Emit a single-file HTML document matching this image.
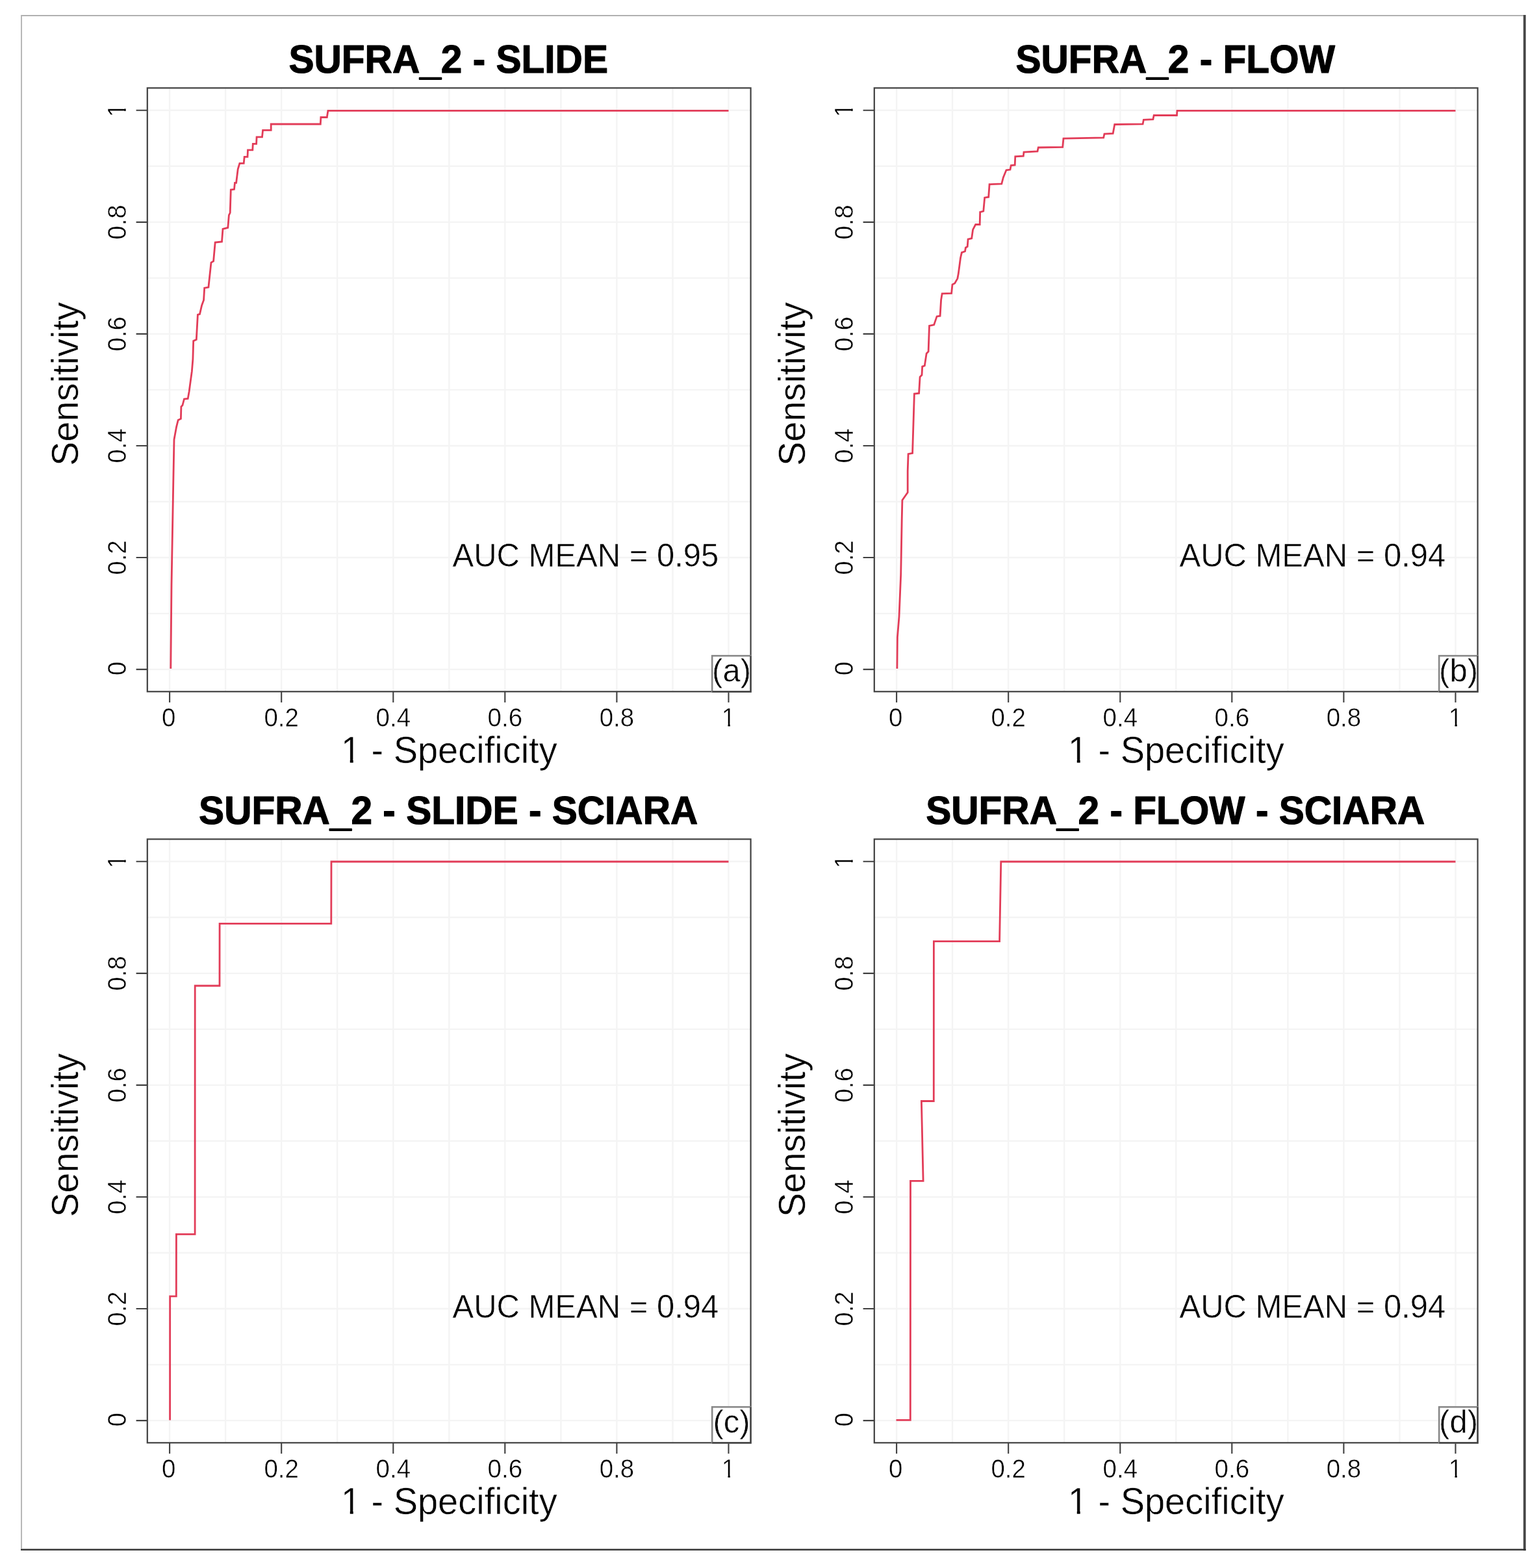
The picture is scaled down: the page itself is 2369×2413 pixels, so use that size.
<!DOCTYPE html>
<html><head><meta charset="utf-8"><title>ROC curves</title>
<style>
html,body{margin:0;padding:0;background:#fff;overflow:hidden;}
svg{display:block;}
text{font-family:"Liberation Sans", Arial, Helvetica, sans-serif;fill:#000;}
.tk{font-size:38.5px;}
.lab{font-size:56px;}
.main{font-size:58.6px;font-weight:bold;stroke:#000;stroke-width:1.1px;stroke-linejoin:round;}
.auc{font-size:49px;}
.tk,.lab,.auc{stroke:#fff;stroke-width:0.5px;}
.grid{stroke:#f4f4f4;stroke-width:2.4;fill:none;}
.axis{stroke:#404040;stroke-width:2.1;fill:none;}
.box{stroke:#404040;stroke-width:2.2;fill:none;}
.roc{stroke:#e23c58;stroke-width:2.8;fill:none;stroke-linejoin:miter;}
.lbox{stroke:#888;stroke-width:2.6;fill:#fff;}
</style></head><body>
<svg width="2369" height="2413" viewBox="0 0 2369 2413">
<rect x="0" y="0" width="2369" height="2413" fill="#fff"/>
<line x1="32" y1="24" x2="2345" y2="24" stroke="#b0b0b0" stroke-width="1.8"/>
<line x1="33" y1="23" x2="33" y2="2385" stroke="#b4b4b4" stroke-width="1.9"/>
<line x1="2346.8" y1="23" x2="2346.8" y2="2386.3" stroke="#474747" stroke-width="3.8"/>
<line x1="34" y1="2383" x2="2345" y2="2383" stroke="#dddddd" stroke-width="1.4"/>
<line x1="32" y1="2384.9" x2="2348.7" y2="2384.9" stroke="#303030" stroke-width="2.2"/>
<g>
<path class="grid" d="M261.1 135.4V1064.3M226.8 1030.1H1155.6M347.1 135.4V1064.3M226.8 944.1H1155.6M433.2 135.4V1064.3M226.8 858.0H1155.6M519.2 135.4V1064.3M226.8 772.0H1155.6M605.3 135.4V1064.3M226.8 686.0H1155.6M691.3 135.4V1064.3M226.8 599.9H1155.6M777.3 135.4V1064.3M226.8 513.9H1155.6M863.4 135.4V1064.3M226.8 427.9H1155.6M949.4 135.4V1064.3M226.8 341.9H1155.6M1035.5 135.4V1064.3M226.8 255.8H1155.6M1121.5 135.4V1064.3M226.8 169.8H1155.6"/>
<polyline class="roc" points="262.8,1029.0 264.0,900.0 267.0,730.0 268.0,676.4 271.6,656.8 274.2,646.5 278.4,644.4 278.9,625.9 280.9,623.8 283.5,614.0 289.2,613.5 291.2,602.2 292.3,593.9 295.4,571.2 296.9,552.7 297.7,524.7 302.3,522.6 304.4,484.4 307.5,483.4 310.6,470.0 313.6,461.7 314.7,443.2 320.9,442.1 325.0,404.0 328.6,401.9 331.2,373.0 341.5,372.0 343.0,352.4 350.8,350.3 352.4,331.2 354.2,327.5 355.3,292.0 360.5,291.3 361.5,281.3 363.6,281.3 366.2,260.3 368.9,251.4 375.2,251.4 376.2,241.4 381.0,241.4 381.5,230.9 388.8,230.9 389.3,221.4 394.6,221.4 395.1,210.9 403.5,210.9 404.6,200.4 417.2,200.4 417.2,191.0 493.3,191.0 493.9,180.5 503.3,180.5 504.9,170.3 1121.5,170.3"/>
<rect class="box" x="226.8" y="135.4" width="928.8" height="928.9"/>
<path class="axis" d="M261.1 1064.3V1081.1M226.8 1030.1H209.6M433.2 1064.3V1081.1M226.8 858.0H209.6M605.3 1064.3V1081.1M226.8 686.0H209.6M777.3 1064.3V1081.1M226.8 513.9H209.6M949.4 1064.3V1081.1M226.8 341.9H209.6M1121.5 1064.3V1081.1M226.8 169.8H209.6"/>
<text class="tk" text-anchor="middle" transform="translate(259.7 1117.6) scale(1 1.050)">0</text>
<text class="tk" text-anchor="middle" transform="translate(433.2 1117.6) scale(1 1.050)">0.2</text>
<text class="tk" text-anchor="middle" transform="translate(605.3 1117.6) scale(1 1.050)">0.4</text>
<text class="tk" text-anchor="middle" transform="translate(777.3 1117.6) scale(1 1.050)">0.6</text>
<text class="tk" text-anchor="middle" transform="translate(949.4 1117.6) scale(1 1.050)">0.8</text>
<text class="tk" text-anchor="middle" transform="translate(1121.5 1117.6) scale(1 1.050)">1</text>
<g transform="translate(1121.5 1117.6) scale(1 1.050)" fill="#fff"><rect x="-9.27" y="-3.48" width="8.25" height="4.18"/><rect x="2.38" y="-3.48" width="7.95" height="4.18"/></g>
<text class="tk" text-anchor="middle" transform="translate(193.8 1028.8) rotate(-90) scale(1 1.050)">0</text>
<text class="tk" text-anchor="middle" transform="translate(193.8 858.0) rotate(-90) scale(1 1.050)">0.2</text>
<text class="tk" text-anchor="middle" transform="translate(193.8 686.0) rotate(-90) scale(1 1.050)">0.4</text>
<text class="tk" text-anchor="middle" transform="translate(193.8 513.9) rotate(-90) scale(1 1.050)">0.6</text>
<text class="tk" text-anchor="middle" transform="translate(193.8 341.9) rotate(-90) scale(1 1.050)">0.8</text>
<text class="tk" text-anchor="middle" transform="translate(193.8 169.8) rotate(-90) scale(1 1.050)">1</text>
<g transform="translate(193.8 169.8) rotate(-90) scale(1 1.050)" fill="#fff"><rect x="-9.27" y="-3.48" width="8.25" height="4.18"/><rect x="2.38" y="-3.48" width="7.95" height="4.18"/></g>
<text class="lab" text-anchor="middle" transform="translate(691.2 1173.5) scale(1 1.030)">1 - Specificity</text>
<g transform="translate(691.2 1173.5) scale(1 1.030)" fill="#fff"><rect x="-163.73" y="-4.78" width="11.32" height="5.48"/><rect x="-147.47" y="-4.78" width="10.88" height="5.48"/></g>
<text class="lab" text-anchor="middle" transform="translate(119.6 591.0) rotate(-90) scale(1 1.030)">Sensitivity</text>
<text class="main" text-anchor="middle" transform="translate(690.2 112.3) scale(1 1.030)">SUFRA<tspan dy="2.4" style="stroke-width:1.9px">_</tspan><tspan dy="-2.4">2 - SLIDE</tspan></text>
<text class="auc" transform="translate(696.5 872.0) scale(1 1.030)">AUC MEAN = 0.95</text>
<rect class="lbox" x="1096.2" y="1009.2" width="59.4" height="55.1"/>
<path class="box" d="M1155.6 1009.2V1064.3H1096.2"/>
<text class="auc" text-anchor="middle" transform="translate(1126.0 1049.3) scale(1 1.030)">(a)</text>
</g>
<g>
<path class="grid" d="M1380.1 135.4V1064.3M1345.8 1030.1H2274.6M1466.1 135.4V1064.3M1345.8 944.1H2274.6M1552.2 135.4V1064.3M1345.8 858.0H2274.6M1638.2 135.4V1064.3M1345.8 772.0H2274.6M1724.3 135.4V1064.3M1345.8 686.0H2274.6M1810.3 135.4V1064.3M1345.8 599.9H2274.6M1896.3 135.4V1064.3M1345.8 513.9H2274.6M1982.4 135.4V1064.3M1345.8 427.9H2274.6M2068.4 135.4V1064.3M1345.8 341.9H2274.6M2154.5 135.4V1064.3M1345.8 255.8H2274.6M2240.5 135.4V1064.3M1345.8 169.8H2274.6"/>
<polyline class="roc" points="1380.9,1029.0 1381.4,980.7 1384.0,949.1 1386.7,884.2 1388.2,800.0 1388.9,769.7 1394.1,762.3 1397.2,757.9 1397.2,725.0 1398.1,698.6 1404.6,697.3 1407.4,606.0 1414.6,605.2 1416.1,580.0 1419.0,577.1 1419.7,564.1 1423.3,562.7 1426.2,543.9 1429.1,541.0 1430.5,501.3 1437.7,499.9 1442.1,486.9 1447.1,486.2 1448.6,461.6 1450.2,451.8 1464.6,451.3 1466.0,437.8 1469.7,436.0 1473.9,428.6 1475.3,421.1 1478.5,397.0 1480.4,388.6 1485.5,386.8 1486.4,381.2 1489.2,379.4 1490.1,368.2 1495.7,366.8 1497.6,353.4 1501.7,345.5 1508.2,345.5 1508.7,326.4 1513.8,325.0 1515.7,304.1 1521.7,303.2 1523.1,283.7 1541.8,282.8 1544.4,272.9 1549.0,261.8 1555.0,261.1 1556.3,254.5 1562.2,253.9 1562.8,240.8 1575.3,240.1 1576.0,234.2 1597.0,232.9 1598.3,227.0 1635.7,226.3 1637.0,213.2 1698.7,211.9 1700.0,206.0 1713.2,205.3 1715.8,191.5 1759.1,190.9 1760.4,184.3 1774.9,183.6 1776.2,177.5 1811.5,177.5 1812.0,170.3 2240.5,170.3"/>
<rect class="box" x="1345.8" y="135.4" width="928.8" height="928.9"/>
<path class="axis" d="M1380.1 1064.3V1081.1M1345.8 1030.1H1328.6M1552.2 1064.3V1081.1M1345.8 858.0H1328.6M1724.3 1064.3V1081.1M1345.8 686.0H1328.6M1896.3 1064.3V1081.1M1345.8 513.9H1328.6M2068.4 1064.3V1081.1M1345.8 341.9H1328.6M2240.5 1064.3V1081.1M1345.8 169.8H1328.6"/>
<text class="tk" text-anchor="middle" transform="translate(1378.7 1117.6) scale(1 1.050)">0</text>
<text class="tk" text-anchor="middle" transform="translate(1552.2 1117.6) scale(1 1.050)">0.2</text>
<text class="tk" text-anchor="middle" transform="translate(1724.3 1117.6) scale(1 1.050)">0.4</text>
<text class="tk" text-anchor="middle" transform="translate(1896.3 1117.6) scale(1 1.050)">0.6</text>
<text class="tk" text-anchor="middle" transform="translate(2068.4 1117.6) scale(1 1.050)">0.8</text>
<text class="tk" text-anchor="middle" transform="translate(2240.5 1117.6) scale(1 1.050)">1</text>
<g transform="translate(2240.5 1117.6) scale(1 1.050)" fill="#fff"><rect x="-9.27" y="-3.48" width="8.25" height="4.18"/><rect x="2.38" y="-3.48" width="7.95" height="4.18"/></g>
<text class="tk" text-anchor="middle" transform="translate(1312.8 1028.8) rotate(-90) scale(1 1.050)">0</text>
<text class="tk" text-anchor="middle" transform="translate(1312.8 858.0) rotate(-90) scale(1 1.050)">0.2</text>
<text class="tk" text-anchor="middle" transform="translate(1312.8 686.0) rotate(-90) scale(1 1.050)">0.4</text>
<text class="tk" text-anchor="middle" transform="translate(1312.8 513.9) rotate(-90) scale(1 1.050)">0.6</text>
<text class="tk" text-anchor="middle" transform="translate(1312.8 341.9) rotate(-90) scale(1 1.050)">0.8</text>
<text class="tk" text-anchor="middle" transform="translate(1312.8 169.8) rotate(-90) scale(1 1.050)">1</text>
<g transform="translate(1312.8 169.8) rotate(-90) scale(1 1.050)" fill="#fff"><rect x="-9.27" y="-3.48" width="8.25" height="4.18"/><rect x="2.38" y="-3.48" width="7.95" height="4.18"/></g>
<text class="lab" text-anchor="middle" transform="translate(1810.2 1173.5) scale(1 1.030)">1 - Specificity</text>
<g transform="translate(1810.2 1173.5) scale(1 1.030)" fill="#fff"><rect x="-163.73" y="-4.78" width="11.32" height="5.48"/><rect x="-147.47" y="-4.78" width="10.88" height="5.48"/></g>
<text class="lab" text-anchor="middle" transform="translate(1238.6 591.0) rotate(-90) scale(1 1.030)">Sensitivity</text>
<text class="main" text-anchor="middle" transform="translate(1809.2 112.3) scale(1 1.030)">SUFRA<tspan dy="2.4" style="stroke-width:1.9px">_</tspan><tspan dy="-2.4">2 - FLOW</tspan></text>
<text class="auc" transform="translate(1815.5 872.0) scale(1 1.030)">AUC MEAN = 0.94</text>
<rect class="lbox" x="2215.2" y="1009.2" width="59.4" height="55.1"/>
<path class="box" d="M2274.6 1009.2V1064.3H2215.2"/>
<text class="auc" text-anchor="middle" transform="translate(2245.0 1049.3) scale(1 1.030)">(b)</text>
</g>
<g>
<path class="grid" d="M261.1 1291.4V2220.3M226.8 2186.1H1155.6M347.1 1291.4V2220.3M226.8 2100.1H1155.6M433.2 1291.4V2220.3M226.8 2014.0H1155.6M519.2 1291.4V2220.3M226.8 1928.0H1155.6M605.3 1291.4V2220.3M226.8 1842.0H1155.6M691.3 1291.4V2220.3M226.8 1755.9H1155.6M777.3 1291.4V2220.3M226.8 1669.9H1155.6M863.4 1291.4V2220.3M226.8 1583.9H1155.6M949.4 1291.4V2220.3M226.8 1497.9H1155.6M1035.5 1291.4V2220.3M226.8 1411.8H1155.6M1121.5 1291.4V2220.3M226.8 1325.8H1155.6"/>
<polyline class="roc" points="261.6,2185.4 261.7,1994.9 271.3,1994.9 271.4,1899.3 300.1,1899.3 300.2,1517.0 338.0,1517.0 338.1,1421.4 509.8,1421.4 510.0,1326.0 1121.5,1326.0"/>
<rect class="box" x="226.8" y="1291.4" width="928.8" height="928.9"/>
<path class="axis" d="M261.1 2220.3V2237.1M226.8 2186.1H209.6M433.2 2220.3V2237.1M226.8 2014.0H209.6M605.3 2220.3V2237.1M226.8 1842.0H209.6M777.3 2220.3V2237.1M226.8 1669.9H209.6M949.4 2220.3V2237.1M226.8 1497.9H209.6M1121.5 2220.3V2237.1M226.8 1325.8H209.6"/>
<text class="tk" text-anchor="middle" transform="translate(259.7 2273.6) scale(1 1.050)">0</text>
<text class="tk" text-anchor="middle" transform="translate(433.2 2273.6) scale(1 1.050)">0.2</text>
<text class="tk" text-anchor="middle" transform="translate(605.3 2273.6) scale(1 1.050)">0.4</text>
<text class="tk" text-anchor="middle" transform="translate(777.3 2273.6) scale(1 1.050)">0.6</text>
<text class="tk" text-anchor="middle" transform="translate(949.4 2273.6) scale(1 1.050)">0.8</text>
<text class="tk" text-anchor="middle" transform="translate(1121.5 2273.6) scale(1 1.050)">1</text>
<g transform="translate(1121.5 2273.6) scale(1 1.050)" fill="#fff"><rect x="-9.27" y="-3.48" width="8.25" height="4.18"/><rect x="2.38" y="-3.48" width="7.95" height="4.18"/></g>
<text class="tk" text-anchor="middle" transform="translate(193.8 2184.8) rotate(-90) scale(1 1.050)">0</text>
<text class="tk" text-anchor="middle" transform="translate(193.8 2014.0) rotate(-90) scale(1 1.050)">0.2</text>
<text class="tk" text-anchor="middle" transform="translate(193.8 1842.0) rotate(-90) scale(1 1.050)">0.4</text>
<text class="tk" text-anchor="middle" transform="translate(193.8 1669.9) rotate(-90) scale(1 1.050)">0.6</text>
<text class="tk" text-anchor="middle" transform="translate(193.8 1497.9) rotate(-90) scale(1 1.050)">0.8</text>
<text class="tk" text-anchor="middle" transform="translate(193.8 1325.8) rotate(-90) scale(1 1.050)">1</text>
<g transform="translate(193.8 1325.8) rotate(-90) scale(1 1.050)" fill="#fff"><rect x="-9.27" y="-3.48" width="8.25" height="4.18"/><rect x="2.38" y="-3.48" width="7.95" height="4.18"/></g>
<text class="lab" text-anchor="middle" transform="translate(691.2 2329.5) scale(1 1.030)">1 - Specificity</text>
<g transform="translate(691.2 2329.5) scale(1 1.030)" fill="#fff"><rect x="-163.73" y="-4.78" width="11.32" height="5.48"/><rect x="-147.47" y="-4.78" width="10.88" height="5.48"/></g>
<text class="lab" text-anchor="middle" transform="translate(119.6 1747.0) rotate(-90) scale(1 1.030)">Sensitivity</text>
<text class="main" text-anchor="middle" transform="translate(690.2 1268.3) scale(1 1.030)">SUFRA<tspan dy="2.4" style="stroke-width:1.9px">_</tspan><tspan dy="-2.4">2 - SLIDE - SCIARA</tspan></text>
<text class="auc" transform="translate(696.5 2028.0) scale(1 1.030)">AUC MEAN = 0.94</text>
<rect class="lbox" x="1096.2" y="2165.2" width="59.4" height="55.1"/>
<path class="box" d="M1155.6 2165.2V2220.3H1096.2"/>
<text class="auc" text-anchor="middle" transform="translate(1126.0 2205.3) scale(1 1.030)">(c)</text>
</g>
<g>
<path class="grid" d="M1380.1 1291.4V2220.3M1345.8 2186.1H2274.6M1466.1 1291.4V2220.3M1345.8 2100.1H2274.6M1552.2 1291.4V2220.3M1345.8 2014.0H2274.6M1638.2 1291.4V2220.3M1345.8 1928.0H2274.6M1724.3 1291.4V2220.3M1345.8 1842.0H2274.6M1810.3 1291.4V2220.3M1345.8 1755.9H2274.6M1896.3 1291.4V2220.3M1345.8 1669.9H2274.6M1982.4 1291.4V2220.3M1345.8 1583.9H2274.6M2068.4 1291.4V2220.3M1345.8 1497.9H2274.6M2154.5 1291.4V2220.3M1345.8 1411.8H2274.6M2240.5 1291.4V2220.3M1345.8 1325.8H2274.6"/>
<polyline class="roc" points="1379.5,2185.3 1401.3,2185.3 1401.5,1817.4 1421.1,1817.4 1418.4,1694.5 1437.3,1694.5 1437.4,1448.7 1538.6,1448.7 1540.8,1326.0 2240.5,1326.0"/>
<rect class="box" x="1345.8" y="1291.4" width="928.8" height="928.9"/>
<path class="axis" d="M1380.1 2220.3V2237.1M1345.8 2186.1H1328.6M1552.2 2220.3V2237.1M1345.8 2014.0H1328.6M1724.3 2220.3V2237.1M1345.8 1842.0H1328.6M1896.3 2220.3V2237.1M1345.8 1669.9H1328.6M2068.4 2220.3V2237.1M1345.8 1497.9H1328.6M2240.5 2220.3V2237.1M1345.8 1325.8H1328.6"/>
<text class="tk" text-anchor="middle" transform="translate(1378.7 2273.6) scale(1 1.050)">0</text>
<text class="tk" text-anchor="middle" transform="translate(1552.2 2273.6) scale(1 1.050)">0.2</text>
<text class="tk" text-anchor="middle" transform="translate(1724.3 2273.6) scale(1 1.050)">0.4</text>
<text class="tk" text-anchor="middle" transform="translate(1896.3 2273.6) scale(1 1.050)">0.6</text>
<text class="tk" text-anchor="middle" transform="translate(2068.4 2273.6) scale(1 1.050)">0.8</text>
<text class="tk" text-anchor="middle" transform="translate(2240.5 2273.6) scale(1 1.050)">1</text>
<g transform="translate(2240.5 2273.6) scale(1 1.050)" fill="#fff"><rect x="-9.27" y="-3.48" width="8.25" height="4.18"/><rect x="2.38" y="-3.48" width="7.95" height="4.18"/></g>
<text class="tk" text-anchor="middle" transform="translate(1312.8 2184.8) rotate(-90) scale(1 1.050)">0</text>
<text class="tk" text-anchor="middle" transform="translate(1312.8 2014.0) rotate(-90) scale(1 1.050)">0.2</text>
<text class="tk" text-anchor="middle" transform="translate(1312.8 1842.0) rotate(-90) scale(1 1.050)">0.4</text>
<text class="tk" text-anchor="middle" transform="translate(1312.8 1669.9) rotate(-90) scale(1 1.050)">0.6</text>
<text class="tk" text-anchor="middle" transform="translate(1312.8 1497.9) rotate(-90) scale(1 1.050)">0.8</text>
<text class="tk" text-anchor="middle" transform="translate(1312.8 1325.8) rotate(-90) scale(1 1.050)">1</text>
<g transform="translate(1312.8 1325.8) rotate(-90) scale(1 1.050)" fill="#fff"><rect x="-9.27" y="-3.48" width="8.25" height="4.18"/><rect x="2.38" y="-3.48" width="7.95" height="4.18"/></g>
<text class="lab" text-anchor="middle" transform="translate(1810.2 2329.5) scale(1 1.030)">1 - Specificity</text>
<g transform="translate(1810.2 2329.5) scale(1 1.030)" fill="#fff"><rect x="-163.73" y="-4.78" width="11.32" height="5.48"/><rect x="-147.47" y="-4.78" width="10.88" height="5.48"/></g>
<text class="lab" text-anchor="middle" transform="translate(1238.6 1747.0) rotate(-90) scale(1 1.030)">Sensitivity</text>
<text class="main" text-anchor="middle" transform="translate(1809.2 1268.3) scale(1 1.030)">SUFRA<tspan dy="2.4" style="stroke-width:1.9px">_</tspan><tspan dy="-2.4">2 - FLOW - SCIARA</tspan></text>
<text class="auc" transform="translate(1815.5 2028.0) scale(1 1.030)">AUC MEAN = 0.94</text>
<rect class="lbox" x="2215.2" y="2165.2" width="59.4" height="55.1"/>
<path class="box" d="M2274.6 2165.2V2220.3H2215.2"/>
<text class="auc" text-anchor="middle" transform="translate(2245.0 2205.3) scale(1 1.030)">(d)</text>
</g>
</svg>
</body></html>
